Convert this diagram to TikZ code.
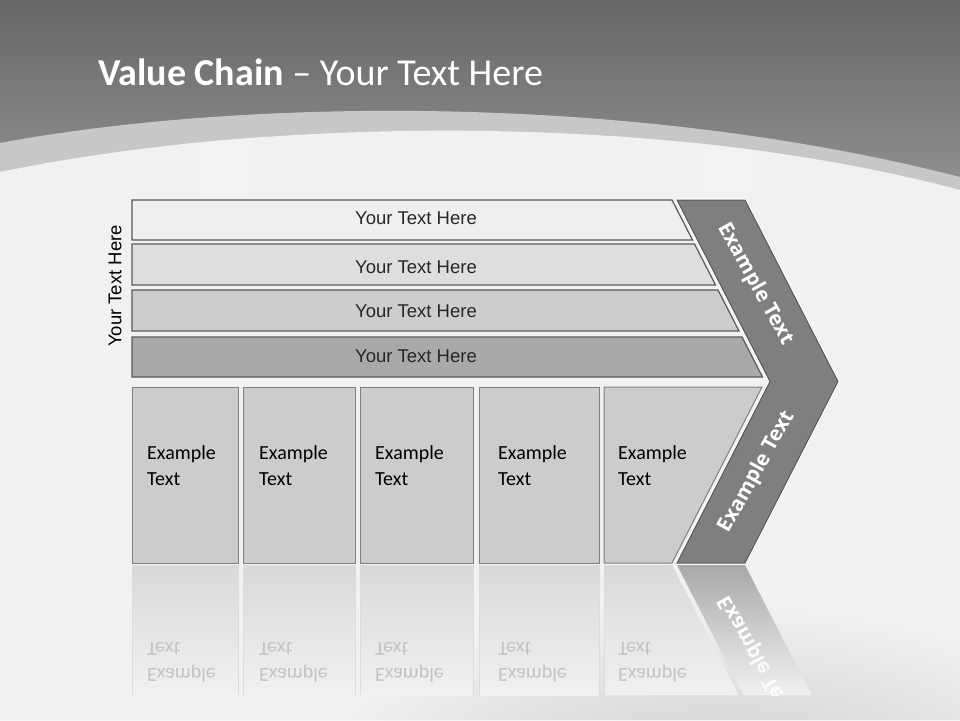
\documentclass[tikz,border=0pt]{standalone}
\usepackage{fontspec}
\setmainfont{Carlito}
\newfontfamily\arialfont{Liberation Sans}
\newfontfamily\chevfont{Open Sans}
\usetikzlibrary{positioning}
\definecolor{bgtop}{HTML}{666666}
\definecolor{bgmid}{HTML}{939393}
\definecolor{bandcol}{HTML}{C7C7C7}
\definecolor{paper}{HTML}{F1F1F1}
\definecolor{barA}{HTML}{EFEFEF}
\definecolor{barB}{HTML}{DEDEDE}
\definecolor{barC}{HTML}{CDCDCD}
\definecolor{barD}{HTML}{A9A9A9}
\definecolor{boxcol}{HTML}{CCCCCC}
\definecolor{chevcol}{HTML}{7F7F7F}
\tikzset{
  bar/.style={draw=black!65, line width=1.2pt},
  bartext/.style={font=\arialfont\fontsize{18.5}{20}\selectfont, text=black!85},
  box/.style={draw=black!50, line width=1pt, fill=boxcol},
  boxtext/.style={font=\fontsize{20}{26}\selectfont, align=left, anchor=north west, inner sep=0pt},
  mirrorbox/.style={top color=black!15, bottom color=paper},
  mirrorline/.style={draw=black!14, line width=0.8pt},
  mirrortext/.style={boxtext, yscale=-1, text=black!24},
  chev/.style={fill=chevcol, draw=black!65, line width=1pt},
  chevtext/.style={font=\chevfont\bfseries\fontsize{20.5}{24}\selectfont, text=white}
}
\begin{document}
\begin{tikzpicture}[x=1pt,y=-1pt]
		\useasboundingbox (0,0) rectangle (960,720);
		\shade[top color=bgtop, bottom color=bgmid] (0,0) rectangle (960,200);
		\fill[bandcol] (0,143) .. controls (230,100) and (620,90) .. (960,177) -- (960,720) -- (0,720) -- cycle;
		\fill[paper] (0,172) .. controls (260,118) and (660,110) .. (960,190) -- (960,720) -- (0,720) -- cycle;
		\begin{scope}
		\clip (0,172) .. controls (260,118) and (660,110) .. (960,190) -- (960,720) -- (0,720) -- cycle;
		\shade[inner color=black!20, outer color=paper] (720,790) ellipse (420 and 190);
		\shade[inner color=black!5, outer color=paper] (225,160) ellipse (45 and 110);
		\shade[inner color=black!5, outer color=paper] (725,160) ellipse (45 and 110);
		\end{scope}
		\node[anchor=base west, text=white, font=\fontsize{38}{40}\selectfont, inner sep=0pt] (title) at (98,85) {\textbf{Value Chain} -- Your Text Here};
		\node[bartext, text=black, rotate=90] (side) at (115,286) {Your Text Here};
		\draw[bar, fill=barA] (132,200) -- (672,200) -- (692.5,240) -- (132,240) -- cycle;
		\draw[bar, fill=barB] (132,244) -- (694.5,244) -- (715.5,285) -- (132,285) -- cycle;
		\draw[bar, fill=barC] (132,290) -- (718,290) -- (739,331) -- (132,331) -- cycle;
		\draw[bar, fill=barD] (132,337) -- (742,337) -- (762.5,377) -- (132,377) -- cycle;
		\node[bartext] (bar1) at (416,218) {Your Text Here};
		\node[bartext] (bar2) at (416,267) {Your Text Here};
		\node[bartext] (bar3) at (416,311) {Your Text Here};
		\node[bartext] (bar4) at (416,356) {Your Text Here};
		\draw[white, line width=3pt, line join=round] (677,200) -- (745,200) -- (838,381.5) -- (745,563) -- (677,563) -- (770,381.5) -- cycle;
		\draw[chev] (677,200) -- (745,200) -- (838,381.5) -- (745,563) -- (677,563) -- (770,381.5) -- cycle;
		\node[chevtext, rotate=-61] (chevup) at (755,284) {Example Text};
		\node[chevtext, rotate=61] (chevdown) at (757,472) {Example Text};
		\draw[box] (132,387) rectangle (238,563);
		\draw[box] (243,387) rectangle (355,563);
		\draw[box] (360,387) rectangle (473,563);
		\draw[box] (479,387) rectangle (599,563);
		\draw[box] (604,387) -- (762,387) -- (672,563) -- (604,563) -- cycle;
		\node[boxtext] (ex1) at (147,445) {Example\\Text};
		\node[boxtext] (ex2) at (259,445) {Example\\Text};
		\node[boxtext] (ex3) at (375,445) {Example\\Text};
		\node[boxtext] (ex4) at (498,445) {Example\\Text};
		\node[boxtext] (ex5) at (618,445) {Example\\Text};
		\shade[mirrorbox] (132,565) rectangle (238,695);
		\shade[mirrorbox] (243,565) rectangle (355,695);
		\shade[mirrorbox] (360,565) rectangle (473,695);
		\shade[mirrorbox] (479,565) rectangle (599,695);
		\shade[mirrorbox] (604,565) -- (672,565) -- (738.6,695) -- (604,695) -- cycle;
		\shade[top color=black!34, bottom color=paper] (677,565) -- (745,565) -- (811.6,695) -- (743.6,695) -- cycle;
		\draw[mirrorline] (132,695) -- (132,565) -- (238,565) -- (238,695);
		\draw[mirrorline] (243,695) -- (243,565) -- (355,565) -- (355,695);
		\draw[mirrorline] (360,695) -- (360,565) -- (473,565) -- (473,695);
		\draw[mirrorline] (479,695) -- (479,565) -- (599,565) -- (599,695);
		\draw[mirrorline] (604,695) -- (604,565) -- (672,565);
		\node[mirrortext] (rex1) at (147,683) {Example\\Text};
		\node[mirrortext] (rex2) at (259,683) {Example\\Text};
		\node[mirrortext] (rex3) at (375,683) {Example\\Text};
		\node[mirrortext] (rex4) at (498,683) {Example\\Text};
		\node[mirrortext] (rex5) at (618,683) {Example\\Text};
		\begin{scope}
		\clip (677,565) -- (745,565) -- (811.6,695) -- (743.6,695) -- cycle;
		\node[chevtext, text=white!70!paper, yscale=-1, rotate=61] (rchev) at (757,656) {Example Text};
		\end{scope}
\end{tikzpicture}
\end{document}
